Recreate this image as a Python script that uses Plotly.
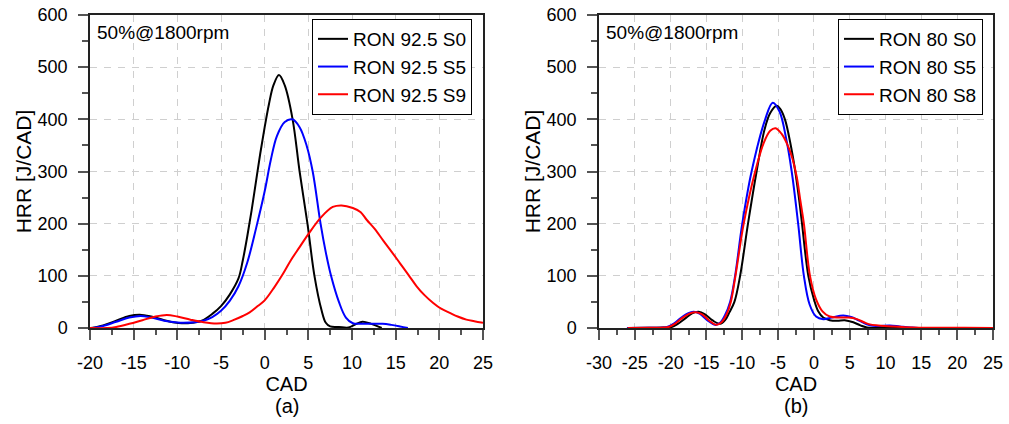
import plotly.graph_objects as go

# ---------------- data ----------------
# Panel (a): RON 92.5
a_s0_x = [-19.9, -18.5, -17, -15.5, -14.3, -13, -11.5, -10.3, -9.5, -8.3, -7.2, -6, -5, -4, -3, -2.5, -2,
          -1.5, -1, -0.5, 0, 0.5, 1.0, 1.64, 2.3, 3.2, 4.0, 4.9, 5.7, 6.5, 7.0, 7.5, 8.5, 9.6, 10.4, 11.2,
          12.2, 13.4]
a_s0_y = [0, 5, 14, 23, 25.5, 22, 15, 10.5, 9, 10, 14, 27, 42, 64, 95, 130, 175,
          225, 280, 335, 385, 430, 465, 485, 465, 400, 300, 200, 100, 35, 10, 3, 2, 1, 7, 12,
          8, 0]

a_s5_x = [-19.7, -18.5, -17, -15.5, -14.2, -13, -11.5, -10, -9.3, -8, -7, -6, -5, -4, -3, -2, -1, 0,
          0.7, 1.4, 2.3, 3.17, 4.0, 4.8, 5.5, 6.4, 7.0, 7.6, 8.5, 9.3, 10.1, 11, 12, 13.5, 14.5, 15.5, 16.4]
a_s5_y = [0, 4, 12, 20, 23, 20, 14, 10.5, 10, 11, 14, 21, 33, 52, 80, 125, 190, 262,
          322, 368, 395, 400, 385, 350, 300, 200, 145, 100, 50, 20, 9, 8, 8, 8, 6, 3, 0]

a_s9_x = [-20, -18, -17, -15.5, -14, -12.5, -11.2, -10, -8.5, -7, -5.5, -4.5, -3.6, -2.5, -1.72, -0.8, 0,
          1.1, 2.1, 3, 4.0, 5, 6.5, 7.8, 8.8, 10.1, 11, 11.7, 12.6, 13.6, 14.5, 15.5, 16.5, 17.4, 18.3,
          19.3, 20.2, 21.2, 22.1, 23.1, 24, 25]
a_s9_y = [0, 0, 2, 8, 15, 22, 25, 22, 16, 11, 8.5, 10, 15, 23, 30, 42, 53,
          78, 104, 130, 155, 180, 213, 232, 235, 230, 222, 207, 190, 167, 147, 124, 101, 80, 63,
          48, 37, 29, 22, 16, 13, 10]

# Panel (b): RON 80
b_s0_x = [-25.7, -23, -21, -19.85, -19, -18, -17, -16.1, -15.2, -14.2, -13.1, -12.4, -11.8, -11.1, -10.3,
          -9.2, -8.0, -6.9, -6.1, -5.2, -4.6, -4.0, -3.3, -2.6, -2.1, -1.7, -0.78, 0, 0.6, 1.3, 2.2, 3.3,
          4.3, 5.5, 6.5, 7.4, 8.5, 12.4]
b_s0_y = [0, 0.5, 1, 2, 8, 18, 28, 31, 26, 15, 8, 15, 30, 50, 100,
          200, 300, 380, 412, 426, 418, 398, 355, 300, 250, 205, 100, 55, 32, 20, 15, 14,
          15, 11, 5, 1, 0, 0]

b_s5_x = [-26.1, -23, -21, -20.5, -19.5, -18.5, -17.6, -16.8, -15.9, -14.9, -13.8, -13.1, -12.4, -11.7,
          -11.0, -10.0, -8.7, -6.8, -5.75, -4.8, -3.9, -3.1, -2.2, -1.4, -0.6, 0.3, 1.3, 2.5, 4.1, 5.2,
          6.3, 7.8, 9, 10.6, 12, 13.5, 14.6, 20, 25]
b_s5_y = [0, 0.5, 1, 2, 9, 20, 28, 31, 27, 15, 6, 10, 25, 50,
          100, 200, 300, 400, 432, 415, 365, 300, 200, 100, 45, 22, 17, 20, 24, 21,
          14, 5, 4, 5, 3, 1, 0, 0, 0]

b_s8_x = [-26, -23, -21, -20.3, -19.3, -18.3, -17.3, -16.5, -15.6, -14.6, -13.6, -12.9, -12.2, -11.6,
          -10.95, -9.8, -8.2, -7.0, -6.1, -5.35, -4.5, -3.5, -3.0, -2.4, -1.9, -1.4, -0.55, 0.3, 1.2, 2.2,
          3.5, 4.8, 6, 7, 7.8, 9, 11, 13.8, 17, 21, 25]
b_s8_y = [0, 0.5, 1, 2, 9, 20, 28, 30, 26, 14, 6, 11, 26, 50,
          100, 200, 300, 355, 378, 383, 372, 345, 325, 290, 245, 200, 100, 55, 32, 22,
          20, 20, 17, 11, 7, 5, 3, 1, 0.5, 0.3, 0]

names_a = ["RON 92.5 S0", "RON 92.5 S5", "RON 92.5 S9"]
names_b = ["RON 80 S0", "RON 80 S5", "RON 80 S8"]
colors = ["#000000", "#0000ff", "#ff0000"]

xticks_a = [-20, -15, -10, -5, 0, 5, 10, 15, 20, 25]
xticks_b = [-30, -25, -20, -15, -10, -5, 0, 5, 10, 15, 20, 25]
yticks = [0, 100, 200, 300, 400, 500, 600]
note_text = "50%@1800rpm"
panel_labels = ["(a)", "(b)"]

# ---------------- figure ----------------
W, H = 1009, 424
FONT = "Liberation Sans, Arial, sans-serif"
PLOT_TOP, PLOT_BOT = 15, 328   # screen pixels of the plot area
PH = PLOT_BOT - PLOT_TOP

def px(x):
    return x / W

def py(y):
    return (PLOT_BOT - y) / PH

fig = go.Figure()

series_a = [(a_s0_x, a_s0_y), (a_s5_x, a_s5_y), (a_s9_x, a_s9_y)]
series_b = [(b_s0_x, b_s0_y), (b_s5_x, b_s5_y), (b_s8_x, b_s8_y)]

for (xs, ys), nm, c in zip(series_a, names_a, colors):
    fig.add_trace(go.Scatter(x=xs, y=ys, name=nm, mode="lines",
                             line=dict(color=c, width=2, shape="spline", smoothing=1.0),
                             xaxis="x", yaxis="y", legend="legend"))
for (xs, ys), nm, c in zip(series_b, names_b, colors):
    fig.add_trace(go.Scatter(x=xs, y=ys, name=nm, mode="lines",
                             line=dict(color=c, width=2, shape="spline", smoothing=1.0),
                             xaxis="x2", yaxis="y2", legend="legend2"))

def xaxis(rng, ticks, dom, anchor):
    return dict(domain=dom, anchor=anchor, range=rng, tickmode="array",
                tickvals=ticks, ticktext=[str(t) for t in ticks],
                showline=True, linecolor="#222", linewidth=1.5, mirror=True,
                ticks="outside", ticklen=10, tickwidth=1.5, tickcolor="#555",
                ticklabelstandoff=8, ticklabeloverflow="allow",
                minor=dict(dtick=2.5, tick0=0, ticks="outside", ticklen=5, tickwidth=1.5,
                           tickcolor="#555", showgrid=False),
                showgrid=True, gridcolor="#cfcfcf", gridwidth=1, griddash="7px,7px",
                zeroline=False, automargin=False,
                tickfont=dict(family=FONT, size=18, color="#000"),
                title=dict(text="CAD", font=dict(family=FONT, size=20, color="#000"), standoff=5))

def yaxis(anchor):
    return dict(domain=[0, 1], anchor=anchor, range=[0, 600], tickmode="array",
                tickvals=yticks, ticktext=[str(t) for t in yticks],
                showline=True, linecolor="#222", linewidth=1.5, mirror=True,
                ticks="outside", ticklen=10, tickwidth=1.5, tickcolor="#555",
                ticklabelstandoff=7, ticklabeloverflow="allow",
                minor=dict(dtick=50, tick0=0, ticks="outside", ticklen=6, tickwidth=1.5,
                           tickcolor="#555", showgrid=False),
                showgrid=True, gridcolor="#cfcfcf", gridwidth=1, griddash="7px,7px",
                zeroline=False, automargin=False,
                tickfont=dict(family=FONT, size=18, color="#000"),
                title=dict(text="HRR [J/CAD]", font=dict(family=FONT, size=21, color="#000"), standoff=0))

dom_a = [px(90), px(483)]
dom_b = [px(599), px(993)]

legend_common = dict(bgcolor="white", bordercolor="#000", borderwidth=1,
                     font=dict(family=FONT, size=19, color="#000"),
                     xanchor="left", yanchor="top", itemwidth=30, tracegroupgap=0)

fig.update_layout(
    width=W, height=H,
    margin=dict(l=0, r=0, t=PLOT_TOP, b=H - PLOT_BOT),
    paper_bgcolor="white", plot_bgcolor="white",
    font=dict(family=FONT, color="#000"),
    xaxis=xaxis([-20, 25], xticks_a, dom_a, "y"),
    yaxis=yaxis("x"),
    xaxis2=xaxis([-30, 25], xticks_b, dom_b, "y2"),
    yaxis2=yaxis("x2"),
    legend=dict(x=px(312), y=py(19), **legend_common),
    legend2=dict(x=px(838), y=py(19), **legend_common),
    showlegend=True,
)

for dom, lab in zip([dom_a, dom_b], panel_labels):
    fig.add_annotation(text=note_text, xref="paper", yref="paper",
                       x=dom[0] + 5 / W, y=py(32), xanchor="left", yanchor="middle",
                       showarrow=False, font=dict(family=FONT, size=19, color="#000"))
    fig.add_annotation(text=lab, xref="paper", yref="paper",
                       x=(dom[0] + dom[1]) / 2, y=py(406), xanchor="center", yanchor="middle",
                       showarrow=False, font=dict(family=FONT, size=20, color="#000"))

fig.write_html("out.html",
               config={"displayModeBar": False},
               post_script="document.body.style.margin='0px';document.body.style.overflow='hidden';")
